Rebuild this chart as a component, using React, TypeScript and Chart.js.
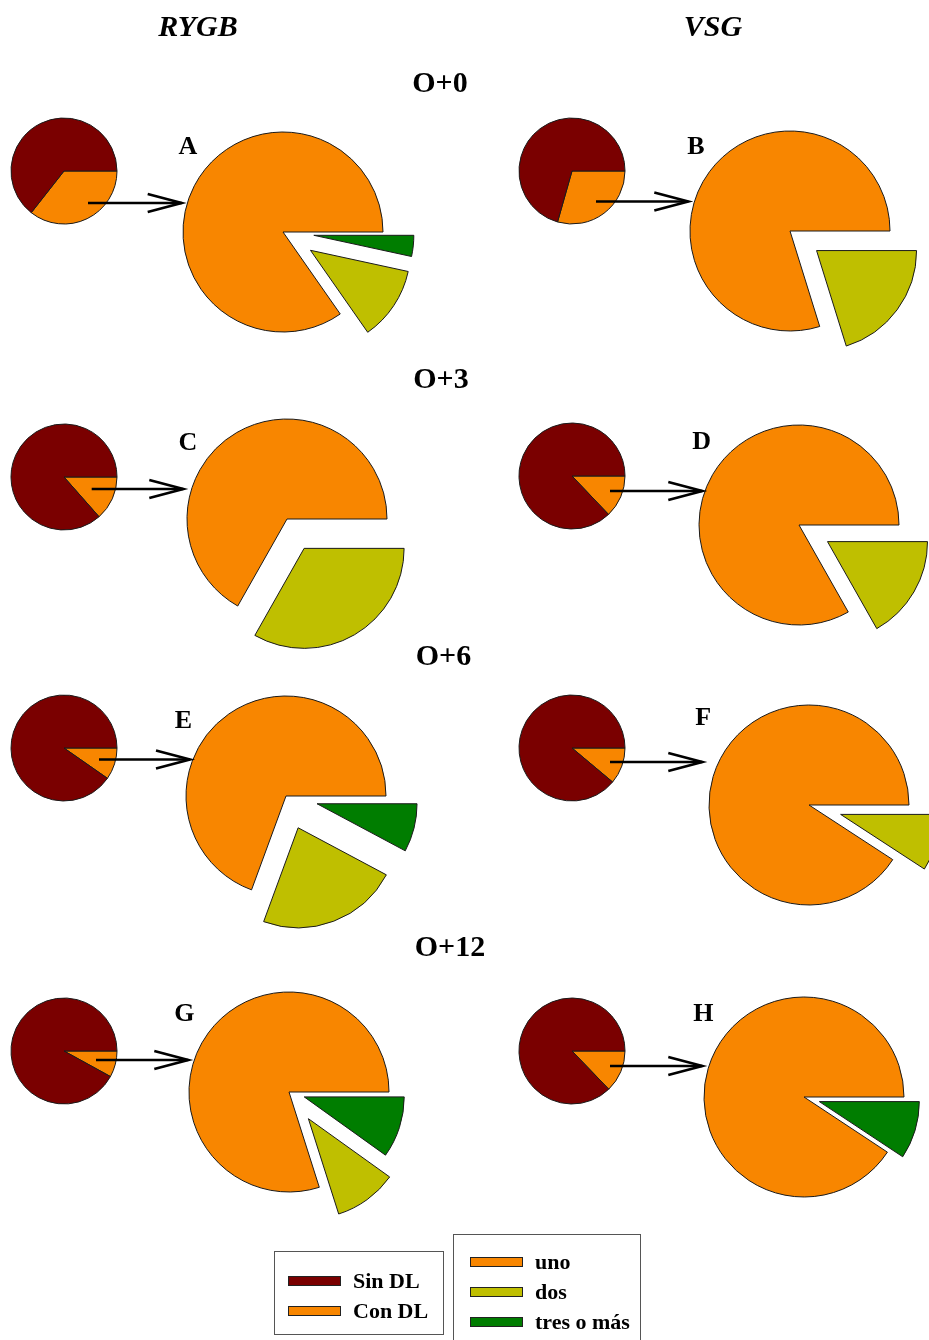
import React, { useEffect, useRef } from 'react';
import { Chart, registerables } from 'chart.js';

Chart.register(...registerables);

// ---------- DATA ----------
const groups = ['RYGB', 'VSG'];
const periods = ['O+0', 'O+3', 'O+6', 'O+12'];
const panelLetters = ['A', 'B', 'C', 'D', 'E', 'F', 'G', 'H'];
const outerLabels = ['Sin DL', 'Con DL'];
const innerLabels = ['uno', 'dos', 'tres o más'];
// per panel A..H (%)
const sinDL = [64.4, 70.6, 86.5, 87.1, 90.3, 88.9, 92.0, 87.2];
const conDL = [35.6, 29.4, 13.5, 12.9, 9.7, 11.1, 8.0, 12.8];
const uno = [84.7, 79.8, 66.8, 83.2, 69.4, 90.8, 79.9, 90.7];
const dos = [11.9, 20.2, 33.2, 16.8, 22.8, 9.2, 10.2, 0];
const tres = [3.4, 0, 0, 0, 7.8, 0, 9.9, 9.3];

// ---------- STYLE / LAYOUT ----------
const COL_SIN = '#7a0000';
const COL_CON = '#f88600';
const COL_UNO = '#f88600';
const COL_DOS = '#bfbf00';
const COL_TRES = '#007d00';
const FONT = '"Liberation Serif", "Times New Roman", serif';

const SMALL_R = 53;
const BIG_R = 100;
// explode distance in px for [dos, tres]
const explodePx = [[33, 31], [33, 0], [34, 0], [33, 0], [34, 32], [33, 0], [33, 16], [0, 16]];
const smallCenters = [[64, 170.7], [571.7, 170.7], [64, 476.5], [571.7, 476], [64, 748.3], [571.7, 748.3], [64, 1050.7], [571.7, 1050.7]];
const bigCenters = [[283.3, 231.7], [790, 230.7], [286.7, 519.3], [799.3, 525], [285.7, 795.7], [809, 805], [289, 1091.7], [804.3, 1097.3]];
const letterPos = [[188, 146], [696, 146], [188, 441.5], [701.7, 441], [183.3, 719.5], [703.3, 716.7], [184.3, 1013], [703.3, 1013]];
const arrows = [[88, 181.7, 203], [596, 688.3, 201.5], [91.7, 183.3, 489], [610, 702.3, 491], [99, 190, 759.5], [610, 702.3, 762], [96, 188.3, 1060], [610, 702.3, 1066]];
const periodPos = [[440, 82], [441, 378], [443.5, 655], [450, 946]];
const groupPos = [[198, 26], [713, 26]];

// Chart.js shrinks the angle and grows the radius of offset arcs;
// compensate so exploded slices keep their true angle and the pie radius.
const keepGeometry = {
  id: 'keepGeometry',
  afterDatasetsUpdate(chart: any) {
    const meta = chart.getDatasetMeta(0);
    const R = meta.controller.outerRadius;
    meta.data.forEach((arc: any) => {
      const o = (arc.options.offset || 0) / 4;
      if (!o || !arc.circumference) return;
      const fix = 1 - Math.sin(Math.min(Math.PI, arc.circumference));
      const ro = o * fix;
      arc.outerRadius = R - ro;
      const widen = ro / (Math.PI * R) / 2;
      arc.startAngle = arc.startAngle - widen;
      arc.endAngle = arc.endAngle + widen;
    });
  },
};

function PieCanvas({ cx, cy, r, labels, values, colors, offsets }: any) {
  const ref = useRef<HTMLCanvasElement>(null);
  const pad = 70;
  const size = Math.round(2 * (r + pad));
  useEffect(() => {
    // R draws counter-clockwise from 3 o'clock; Chart.js clockwise -> reverse order, start at 3 o'clock
    const chart = new Chart(ref.current as HTMLCanvasElement, {
      type: 'pie',
      data: {
        labels: [...labels].reverse(),
        datasets: [
          {
            data: [...values].reverse(),
            backgroundColor: [...colors].reverse(),
            borderColor: '#1a1a1a',
            borderWidth: 1,
            borderJoinStyle: 'miter',
            offset: [...offsets].reverse(),
            radius: r,
            clip: false,
          } as any,
        ],
      },
      options: {
        animation: false,
        responsive: false,
        devicePixelRatio: 1,
        rotation: 90,
        events: [],
        layout: { padding: 0 },
        plugins: { legend: { display: false }, tooltip: { enabled: false } },
      } as any,
      plugins: [keepGeometry],
    });
    return () => chart.destroy();
  }, []);
  return (
    <canvas
      ref={ref}
      width={size}
      height={size}
      style={{ position: 'absolute', left: cx - size / 2, top: cy - size / 2, width: size, height: size }}
    />
  );
}

const txt = (x: number, y: number, s: string, size: number, italic = false, key?: any) => (
  <div
    key={key}
    style={{
      position: 'absolute',
      left: x,
      top: y,
      transform: 'translate(-50%, -50%)',
      fontFamily: FONT,
      fontWeight: 'bold',
      fontStyle: italic ? 'italic' : 'normal',
      fontSize: size,
      lineHeight: 1,
      whiteSpace: 'nowrap',
      color: '#000',
    }}
  >
    {s}
  </div>
);

function LegendItem({ color, label }: any) {
  return (
    <div style={{ display: 'flex', alignItems: 'center', height: 30 }}>
      <div style={{ width: 51, height: 8, background: color, border: '1px solid #222', marginRight: 12 }} />
      <span style={{ fontFamily: FONT, fontWeight: 'bold', fontSize: 22, lineHeight: 1 }}>{label}</span>
    </div>
  );
}

export default function App() {
  return (
    <div style={{ position: 'absolute', left: 0, top: 0, width: 929, height: 1340, overflow: 'hidden', background: '#fff' }}>
      {panelLetters.map((_, i) => (
        <PieCanvas
          key={'s' + i}
          cx={smallCenters[i][0]}
          cy={smallCenters[i][1]}
          r={SMALL_R}
          labels={outerLabels}
          values={[sinDL[i], conDL[i]]}
          colors={[COL_SIN, COL_CON]}
          offsets={[0, 0]}
        />
      ))}
      {panelLetters.map((_, i) => (
        <PieCanvas
          key={'b' + i}
          cx={bigCenters[i][0]}
          cy={bigCenters[i][1]}
          r={BIG_R}
          labels={innerLabels}
          values={[uno[i], dos[i], tres[i]]}
          colors={[COL_UNO, COL_DOS, COL_TRES]}
          offsets={[0, explodePx[i][0] * 4, explodePx[i][1] * 4]}
        />
      ))}
      <svg width={929} height={1340} style={{ position: 'absolute', left: 0, top: 0 }}>
        {arrows.map(([x1, x2, y], i) => (
          <g key={i} stroke="#000" strokeWidth={2.6} fill="none">
            <line x1={x1} y1={y} x2={x2} y2={y} />
            <polyline points={`${x2 - 34},${y - 9} ${x2},${y} ${x2 - 34},${y + 9}`} />
          </g>
        ))}
      </svg>
      {groups.map((g, i) => txt(groupPos[i][0], groupPos[i][1], g, 30, true, 'g' + i))}
      {periods.map((p, i) => txt(periodPos[i][0], periodPos[i][1], p, 30, false, 'p' + i))}
      {panelLetters.map((l, i) => txt(letterPos[i][0], letterPos[i][1], l, 26, false, 'l' + i))}
      <div
        style={{
          position: 'absolute',
          left: 274,
          top: 1251,
          width: 170,
          height: 84,
          border: '1px solid #555',
          boxSizing: 'border-box',
          padding: '14px 0 0 13px',
        }}
      >
        {outerLabels.map((l, i) => (
          <LegendItem key={l} color={[COL_SIN, COL_CON][i]} label={l} />
        ))}
      </div>
      <div
        style={{
          position: 'absolute',
          left: 453,
          top: 1234,
          width: 188,
          height: 120,
          border: '1px solid #555',
          boxSizing: 'border-box',
          padding: '12px 0 0 16px',
        }}
      >
        {innerLabels.map((l, i) => (
          <LegendItem key={l} color={[COL_UNO, COL_DOS, COL_TRES][i]} label={l} />
        ))}
      </div>
    </div>
  );
}
